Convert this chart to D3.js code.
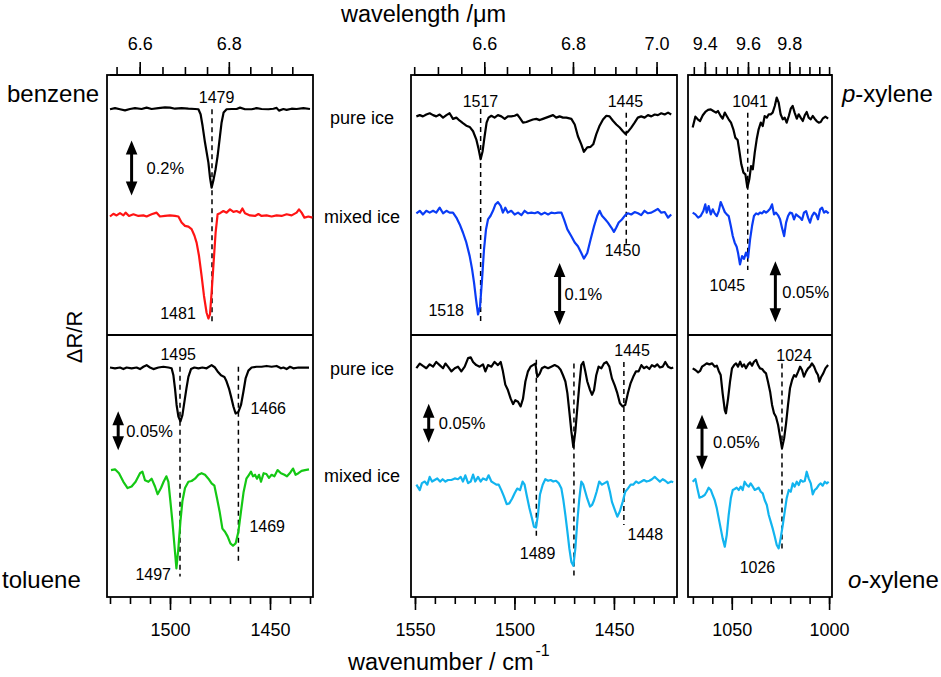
<!DOCTYPE html>
<html>
<head>
<meta charset="utf-8">
<script src="https://cdn.jsdelivr.net/npm/d3@7"></script>
<style>
body { margin: 0; background: #fff; }
svg text { font-family: "Liberation Sans", Arial, sans-serif; fill: #000; }
</style>
</head>
<body>
<script>
// spectra: [wavenumber (cm-1), dR/R (%) relative to each trace baseline]
var benzenePure = [[1530.0,0],[1527.5,0.004],[1525.0,0],[1522.5,-0.004],[1520.0,0.001],[1517.5,0.004],[1514.2,0.001],[1511.7,0.006],[1509.2,0.001],[1505.8,0.004],[1502.5,0.007],[1500.0,0.006],[1497.5,0.002],[1494.2,0.004],[1490.8,0.002],[1487.5,0.001],[1485.8,0],[1484.7,-0.018],[1483.7,-0.061],[1482.5,-0.121],[1480.8,-0.194],[1480.0,-0.248],[1479.2,-0.285],[1478.2,-0.255],[1477.2,-0.218],[1476.2,-0.170],[1475.0,-0.097],[1474.2,-0.048],[1473.2,-0.012],[1471.7,0],[1469.2,0.001],[1466.7,0.001],[1465.0,0.006],[1462.5,0],[1459.2,0],[1456.7,0.004],[1454.2,0.001],[1450.8,0],[1448.3,0.002],[1446.7,0.005],[1445.5,-0.005],[1443.3,0.001],[1441.7,-0.002],[1439.2,0.002],[1436.7,0.001],[1433.3,0.004],[1430.0,0.001]];
var benzeneMixed = [[1530.0,-0.002],[1528.3,0.008],[1526.7,0.002],[1525.0,0.010],[1523.3,0.002],[1522.2,0.012],[1520.5,0],[1518.3,0.006],[1515.8,0],[1513.3,0.002],[1511.7,-0.002],[1509.2,0.006],[1506.7,0.012],[1505.0,-0.002],[1502.5,0],[1500.0,0.002],[1497.5,0],[1495.8,-0.002],[1494.2,-0.024],[1492.5,-0.036],[1490.8,-0.039],[1489.2,-0.048],[1487.8,-0.071],[1486.7,-0.097],[1485.5,-0.145],[1484.2,-0.218],[1483.0,-0.291],[1481.7,-0.352],[1480.8,-0.373],[1480.0,-0.358],[1479.2,-0.279],[1478.2,-0.170],[1477.2,-0.061],[1476.2,0.006],[1475.0,0.010],[1473.3,0.018],[1471.7,0.012],[1470.0,0.024],[1468.3,0.015],[1466.7,0.018],[1465.0,0.012],[1463.8,0.027],[1462.5,0.010],[1460.0,0.002],[1457.5,0],[1455.8,0.007],[1454.2,0],[1451.7,0.002],[1449.2,-0.002],[1446.7,0.002],[1444.2,0],[1441.7,0.006],[1439.2,0.002],[1436.7,0.012],[1435.5,0.024],[1434.2,0.012],[1432.8,-0.006],[1430.8,-0.002],[1428.8,-0.006]];

var pXyleneCHPure = [[1549.3,0.002],[1547.6,0.004],[1546.0,0.002],[1544.3,0.005],[1542.6,0.007],[1540.9,0.004],[1539.3,0.002],[1537.6,0.005],[1535.9,0],[1534.2,0.004],[1532.6,0.007],[1530.9,-0.002],[1529.2,0],[1527.5,-0.005],[1525.9,-0.009],[1524.2,-0.013],[1522.5,-0.015],[1520.8,-0.022],[1519.2,-0.035],[1518.0,-0.051],[1517.0,-0.067],[1516.0,-0.054],[1515.0,-0.030],[1514.0,-0.008],[1513.0,0],[1511.6,0.003],[1510.0,0],[1508.3,0.004],[1506.6,0.002],[1504.9,-0.002],[1503.3,0.002],[1501.6,0.002],[1499.9,0.003],[1498.6,0.005],[1497.4,0],[1495.7,-0.008],[1494.0,-0.007],[1492.4,-0.005],[1490.7,-0.003],[1489.0,-0.002],[1487.3,-0.004],[1485.7,-0.002],[1484.0,0],[1482.3,0.002],[1480.6,0.004],[1479.0,0],[1477.3,0.002],[1475.6,0],[1473.9,0],[1471.4,-0.002],[1469.7,-0.011],[1468.1,-0.030],[1466.4,-0.043],[1465.1,-0.055],[1463.4,-0.048],[1461.7,-0.047],[1460.4,-0.043],[1458.9,-0.027],[1457.2,-0.013],[1455.5,-0.003],[1453.8,0.003],[1452.2,0.002],[1450.5,-0.005],[1448.8,-0.011],[1447.1,-0.016],[1445.5,-0.022],[1444.3,-0.026],[1443.0,-0.023],[1441.3,-0.016],[1439.6,-0.008],[1438.0,0],[1436.3,0.002],[1434.6,0],[1432.9,0.004],[1431.2,0.002],[1429.5,0.005],[1427.9,0.004],[1426.2,0.007],[1424.5,0.005],[1422.8,0.008],[1421.2,0.005]];
var pXyleneCHMixed = [[1549.3,-0.001],[1547.6,0.003],[1546.0,-0.003],[1544.3,0.003],[1542.6,0],[1540.9,0.003],[1539.3,0],[1537.6,0.008],[1535.9,-0.001],[1534.2,0.003],[1532.6,0],[1530.9,0],[1529.2,-0.008],[1527.5,-0.019],[1525.9,-0.032],[1524.2,-0.048],[1522.5,-0.070],[1521.3,-0.091],[1520.3,-0.113],[1519.3,-0.140],[1518.3,-0.164],[1517.3,-0.151],[1516.3,-0.108],[1515.3,-0.059],[1514.3,-0.027],[1513.3,-0.011],[1512.0,-0.005],[1510.8,0.003],[1509.6,0.013],[1508.3,0.017],[1506.9,0.011],[1505.8,0],[1504.6,0.008],[1503.3,0],[1501.6,0.003],[1499.9,-0.003],[1498.2,0],[1496.5,-0.004],[1494.9,0.003],[1493.2,-0.001],[1491.5,0],[1489.8,-0.001],[1488.2,0.001],[1486.5,-0.003],[1484.8,0],[1483.1,-0.003],[1481.5,0],[1479.8,-0.001],[1478.1,0],[1476.4,0],[1475.1,-0.011],[1473.4,-0.027],[1471.4,-0.038],[1469.7,-0.048],[1468.1,-0.054],[1466.4,-0.065],[1465.1,-0.074],[1463.4,-0.065],[1461.7,-0.043],[1460.0,-0.022],[1458.4,-0.005],[1457.2,0.003],[1456.0,-0.005],[1454.3,-0.011],[1453.0,-0.016],[1451.3,-0.024],[1450.0,-0.031],[1448.8,-0.024],[1447.6,-0.016],[1446.0,-0.011],[1444.3,-0.004],[1443.0,-0.001],[1441.3,-0.003],[1439.6,0.001],[1437.9,-0.001],[1436.3,-0.004],[1434.6,0.003],[1432.9,-0.001],[1431.2,0],[1429.5,0.003],[1427.9,0.006],[1426.2,0],[1424.5,0.001],[1422.8,-0.008],[1421.2,-0.003]];

var pXyleneCOPure = [[1070.1,-0.0068],[1068.7,0.0022],[1067.5,0],[1066.3,-0.0014],[1064.9,0.0033],[1063.6,0.0060],[1062.2,0.0077],[1060.8,0.0082],[1059.5,0.0068],[1058.1,0.0055],[1057.1,0.0068],[1055.7,0.0027],[1054.7,0.0005],[1053.6,0.0055],[1052.6,0.0027],[1051.6,0],[1050.4,-0.0027],[1049.2,-0.0082],[1048.2,-0.0150],[1047.0,-0.0169],[1046.1,-0.0260],[1045.1,-0.0369],[1044.0,-0.0437],[1043.0,-0.0451],[1042.0,-0.0560],[1041.0,-0.0492],[1040.1,-0.0383],[1039.2,-0.0410],[1038.2,-0.0273],[1037.2,-0.0164],[1036.2,-0.0082],[1035.1,-0.0027],[1034.1,-0.0055],[1033.1,0.0027],[1032.0,0.0014],[1031.0,0.0041],[1030.0,0.0041],[1029.0,0.0055],[1027.9,0.0109],[1026.9,0.0178],[1025.9,0.0137],[1024.9,0.0041],[1023.8,0],[1022.8,0.0014],[1021.8,-0.0027],[1020.7,0.0027],[1019.7,0.0087],[1018.7,0.0109],[1017.7,0.0055],[1016.6,0.0005],[1015.6,0.0041],[1014.6,0.0014],[1013.5,-0.0014],[1012.5,0.0033],[1011.5,0.0060],[1010.5,0.0014],[1009.4,0],[1008.4,0.0027],[1007.4,0.0005],[1006.4,-0.0014],[1005.3,-0.0027],[1004.3,-0.0022],[1003.3,0.0005],[1001.9,0.0022],[1000.5,0.0005]];
var pXyleneCOMixed = [[1070.1,0.0014],[1068.7,0],[1067.3,-0.0027],[1066.0,-0.0014],[1064.6,0.0027],[1063.6,0.0082],[1062.9,0.0014],[1061.9,0.0068],[1060.8,0],[1059.8,0.0041],[1058.8,0.0008],[1057.7,-0.0014],[1056.7,0.0027],[1055.7,0.0101],[1054.7,0.0063],[1053.6,0.0019],[1052.6,0],[1051.6,-0.0014],[1050.5,-0.0096],[1049.5,-0.0178],[1048.5,-0.0232],[1047.5,-0.0265],[1046.8,-0.0314],[1045.8,-0.0410],[1044.7,-0.0342],[1043.7,-0.0365],[1042.7,-0.0314],[1041.6,-0.0355],[1040.6,-0.0205],[1039.6,-0.0096],[1038.6,-0.0014],[1037.5,0.0008],[1036.5,0],[1035.5,0.0014],[1034.4,0.0008],[1033.4,0.0027],[1032.4,0.0014],[1031.4,0.0027],[1030.3,0.0046],[1029.3,0.0082],[1028.3,0],[1027.3,0.0014],[1026.2,-0.0008],[1025.2,-0.0041],[1024.2,-0.0109],[1023.1,-0.0178],[1022.1,-0.0068],[1021.1,-0.0014],[1020.1,0.0014],[1019.0,0.0008],[1018.0,-0.0041],[1017.0,0],[1015.9,-0.0014],[1014.9,-0.0027],[1013.9,-0.0046],[1012.9,0.0014],[1011.8,0.0027],[1010.8,-0.0027],[1009.8,-0.0068],[1008.8,-0.0014],[1007.7,0.0014],[1006.7,0],[1005.7,-0.0041],[1004.6,0.0041],[1003.6,0.0055],[1002.6,0.0014],[1001.6,0.0027],[1000.2,0.0008]];

var toluenePure = [[1530.0,0.001],[1527.5,0],[1525.0,0.001],[1523.3,-0.001],[1521.7,0.001],[1519.2,0],[1516.7,0.001],[1515.0,-0.001],[1513.3,0.002],[1511.7,0.004],[1510.0,0.001],[1508.3,-0.001],[1505.8,0.001],[1503.3,0.002],[1500.8,0.001],[1499.2,0],[1498.3,-0.009],[1497.5,-0.026],[1496.7,-0.047],[1495.8,-0.062],[1494.8,-0.068],[1493.8,-0.060],[1492.8,-0.043],[1491.8,-0.026],[1490.8,-0.011],[1489.5,-0.001],[1487.8,0.001],[1485.8,0],[1483.8,0.001],[1481.7,0],[1479.2,0.004],[1477.5,0.001],[1476.2,-0.004],[1474.5,-0.009],[1472.8,-0.011],[1471.7,-0.017],[1470.5,-0.026],[1469.5,-0.036],[1468.3,-0.049],[1467.2,-0.058],[1465.8,-0.056],[1464.5,-0.047],[1463.3,-0.030],[1462.2,-0.013],[1460.8,-0.003],[1459.2,0.001],[1456.7,0.002],[1454.2,0.002],[1451.7,0.003],[1449.2,0.002],[1446.7,0.003],[1444.5,0],[1443.3,0.001],[1441.7,-0.001],[1440.0,0.002],[1438.3,0],[1435.8,0.001],[1433.3,0.001],[1430.5,0.001]];
var tolueneMixed = [[1529.5,0.002],[1527.5,0.003],[1525.5,-0.002],[1523.3,-0.013],[1521.2,-0.021],[1519.2,-0.019],[1517.2,-0.013],[1515.0,-0.002],[1513.8,0],[1512.5,-0.011],[1510.8,-0.013],[1509.2,-0.009],[1507.5,-0.019],[1506.2,-0.029],[1504.5,-0.021],[1503.2,-0.013],[1501.8,-0.006],[1500.8,-0.013],[1499.8,-0.038],[1498.8,-0.064],[1497.8,-0.094],[1496.8,-0.124],[1495.8,-0.098],[1494.8,-0.064],[1493.8,-0.038],[1492.5,-0.021],[1490.8,-0.013],[1489.2,-0.012],[1487.5,-0.009],[1485.8,-0.004],[1484.2,-0.002],[1482.5,-0.004],[1480.8,-0.009],[1479.2,-0.015],[1477.8,-0.018],[1476.5,-0.034],[1475.2,-0.051],[1473.8,-0.073],[1472.5,-0.077],[1471.2,-0.083],[1469.8,-0.092],[1468.5,-0.095],[1467.2,-0.092],[1465.8,-0.077],[1464.5,-0.051],[1463.2,-0.026],[1461.8,-0.009],[1460.5,-0.004],[1459.5,0],[1458.5,-0.006],[1457.5,-0.004],[1456.5,-0.009],[1455.5,-0.004],[1454.5,-0.013],[1453.2,-0.002],[1451.8,-0.003],[1450.5,-0.008],[1449.2,-0.004],[1447.8,-0.006],[1446.2,0.002],[1444.5,-0.002],[1442.8,-0.004],[1441.5,-0.006],[1439.8,-0.001],[1438.5,0.004],[1437.2,-0.004],[1435.8,-0.002],[1434.2,0.001],[1432.5,0.002],[1430.5,0.003]];

var oXyleneCHPure = [[1549.3,-0.002],[1547.6,0.004],[1546.0,0.001],[1544.3,-0.002],[1542.6,0.003],[1540.9,0],[1539.3,0.006],[1537.6,0.002],[1535.9,-0.002],[1534.7,0.004],[1533.4,0],[1531.7,-0.006],[1530.0,-0.002],[1528.4,0],[1526.7,-0.006],[1525.0,0],[1523.3,0.011],[1522.0,0.012],[1520.8,0.006],[1519.2,0.002],[1517.5,0],[1515.8,0.003],[1514.6,-0.006],[1513.3,0.002],[1511.6,0],[1510.0,0.006],[1508.3,0.002],[1506.9,0.006],[1505.8,-0.006],[1504.6,-0.023],[1503.3,-0.030],[1501.9,-0.041],[1500.7,-0.048],[1499.6,-0.043],[1498.2,-0.045],[1496.9,-0.051],[1495.7,-0.041],[1494.5,-0.019],[1493.2,-0.006],[1491.9,0],[1490.7,0.002],[1489.5,0.004],[1488.5,-0.013],[1487.3,-0.009],[1486.2,-0.002],[1484.8,0],[1483.1,-0.002],[1481.5,0],[1479.8,0.002],[1478.1,0],[1476.8,-0.004],[1475.6,-0.011],[1474.4,-0.019],[1473.4,-0.034],[1472.4,-0.058],[1471.4,-0.083],[1470.4,-0.103],[1469.4,-0.083],[1468.4,-0.053],[1467.4,-0.024],[1466.4,0.002],[1465.4,0.006],[1464.4,-0.006],[1463.4,-0.019],[1462.0,-0.030],[1461.0,-0.036],[1460.0,-0.030],[1458.9,-0.011],[1457.7,0],[1456.3,-0.002],[1455.0,0.004],[1453.7,0.006],[1452.3,0],[1451.0,-0.015],[1449.6,-0.024],[1448.3,-0.034],[1447.0,-0.047],[1445.6,-0.051],[1444.3,-0.049],[1443.0,-0.034],[1441.6,-0.021],[1440.3,-0.013],[1438.9,-0.006],[1437.6,-0.006],[1436.2,0.002],[1434.9,-0.002],[1433.6,0],[1432.2,-0.003],[1430.9,0.002],[1429.5,0],[1428.2,0.003],[1426.9,-0.001],[1425.5,0],[1424.2,0.006],[1422.8,0],[1421.2,-0.002],[1420.2,-0.001]];
var oXyleneCHMixed = [[1549.3,-0.006],[1547.6,-0.013],[1546.5,-0.004],[1545.1,-0.002],[1543.8,-0.006],[1542.6,0.004],[1541.4,-0.002],[1540.1,0],[1538.8,0.002],[1537.4,-0.002],[1536.1,0.001],[1534.7,-0.002],[1533.4,0],[1531.7,0],[1530.0,0.002],[1528.4,0.001],[1527.0,0.004],[1525.9,-0.002],[1524.7,0.006],[1523.3,-0.004],[1522.0,-0.002],[1520.8,0.007],[1519.7,-0.002],[1518.3,0.004],[1517.0,-0.002],[1515.8,0.002],[1514.1,0],[1513.0,0.006],[1511.6,-0.002],[1510.3,-0.004],[1509.1,-0.006],[1507.9,-0.006],[1506.6,-0.013],[1505.3,-0.021],[1503.9,-0.031],[1502.6,-0.030],[1501.2,-0.024],[1499.9,-0.017],[1498.6,-0.011],[1497.2,-0.013],[1495.9,-0.002],[1494.9,-0.006],[1493.9,-0.019],[1492.5,-0.036],[1491.2,-0.049],[1490.2,-0.060],[1489.2,-0.061],[1488.2,-0.045],[1487.2,-0.019],[1485.8,-0.006],[1484.5,0.001],[1483.1,-0.001],[1481.8,0],[1480.5,-0.002],[1479.1,-0.001],[1477.8,-0.004],[1476.4,-0.011],[1475.4,-0.026],[1474.4,-0.045],[1473.4,-0.066],[1472.4,-0.088],[1471.4,-0.105],[1470.4,-0.110],[1469.4,-0.088],[1468.4,-0.053],[1467.4,-0.024],[1466.4,-0.002],[1465.4,-0.006],[1464.4,-0.015],[1463.4,-0.024],[1462.0,-0.034],[1461.0,-0.032],[1460.0,-0.026],[1458.7,-0.015],[1457.4,-0.002],[1456.0,-0.006],[1454.7,-0.004],[1453.3,-0.002],[1452.0,-0.015],[1451.0,-0.028],[1449.6,-0.038],[1448.3,-0.047],[1447.0,-0.040],[1445.6,-0.028],[1444.3,-0.015],[1443.0,-0.011],[1441.6,-0.006],[1440.3,-0.006],[1438.9,-0.002],[1437.6,-0.004],[1436.2,-0.002],[1434.9,0],[1433.6,-0.002],[1432.2,-0.001],[1430.9,0.001],[1429.5,0.004],[1428.2,0.001],[1426.9,-0.002],[1425.5,0.001],[1424.2,-0.001],[1422.8,-0.004],[1421.2,-0.002],[1420.2,-0.003]];

var oXyleneCOPure = [[1070.1,-0.0015],[1068.7,-0.0030],[1067.3,-0.0052],[1066.3,-0.0039],[1065.3,0],[1064.1,0.0015],[1062.9,0.0030],[1061.5,0.0021],[1060.1,0.0030],[1058.8,0],[1057.7,0.0009],[1056.7,-0.0039],[1055.7,-0.0076],[1054.7,-0.0242],[1053.6,-0.0394],[1053.0,-0.0424],[1051.9,-0.0288],[1050.9,-0.0136],[1049.9,-0.0015],[1048.8,0.0015],[1047.8,0.0030],[1046.8,0],[1045.7,0.0045],[1044.7,0],[1043.7,0.0021],[1042.7,-0.0015],[1041.6,0.0021],[1040.6,0.0039],[1039.6,0.0009],[1038.6,0.0045],[1037.5,0.0061],[1036.5,0.0015],[1035.5,-0.0015],[1034.4,-0.0021],[1033.4,-0.0045],[1032.4,-0.0061],[1031.4,-0.0136],[1030.3,-0.0227],[1029.3,-0.0348],[1028.3,-0.0424],[1027.3,-0.0455],[1026.2,-0.0530],[1025.2,-0.0636],[1024.2,-0.0742],[1023.1,-0.0652],[1022.1,-0.0515],[1021.1,-0.0348],[1020.1,-0.0197],[1019.0,-0.0121],[1018.0,-0.0076],[1017.0,-0.0091],[1015.9,-0.0045],[1014.9,0],[1013.9,-0.0030],[1012.9,-0.0091],[1011.8,-0.0045],[1010.8,-0.0015],[1009.8,0],[1008.8,0.0030],[1007.7,0],[1006.7,-0.0045],[1005.7,-0.0076],[1005.0,-0.0136],[1004.0,-0.0091],[1003.0,-0.0061],[1001.9,-0.0015],[1000.5,0.0015]];
var oXyleneCOMixed = [[1070.1,0.0030],[1068.7,0.0055],[1067.7,-0.0030],[1066.6,-0.0115],[1065.3,-0.0106],[1063.9,-0.0091],[1062.9,-0.0061],[1061.9,-0.0024],[1060.8,-0.0045],[1059.8,-0.0091],[1058.8,-0.0136],[1057.7,-0.0212],[1056.7,-0.0303],[1055.7,-0.0394],[1054.7,-0.0485],[1053.6,-0.0561],[1052.6,-0.0455],[1051.6,-0.0273],[1050.5,-0.0121],[1049.5,-0.0045],[1048.5,-0.0036],[1047.5,-0.0024],[1046.4,-0.0045],[1045.4,-0.0015],[1044.4,-0.0045],[1043.4,0.0030],[1042.3,0],[1041.3,-0.0015],[1040.3,0.0015],[1039.2,-0.0015],[1038.2,-0.0045],[1037.2,-0.0036],[1036.2,-0.0024],[1035.1,-0.0061],[1034.1,-0.0076],[1033.1,-0.0136],[1032.0,-0.0182],[1031.0,-0.0273],[1030.0,-0.0333],[1029.0,-0.0394],[1027.9,-0.0470],[1026.9,-0.0545],[1025.9,-0.0576],[1024.9,-0.0485],[1023.8,-0.0364],[1022.8,-0.0242],[1021.8,-0.0121],[1020.7,-0.0045],[1019.7,-0.0061],[1018.7,0.0015],[1017.7,-0.0015],[1016.6,0.0030],[1015.6,0],[1014.6,0.0045],[1013.5,0.0030],[1012.5,0.0036],[1011.5,0.0121],[1010.5,0.0061],[1009.4,0.0015],[1008.4,-0.0085],[1007.4,-0.0045],[1006.4,-0.0030],[1005.3,0],[1004.3,0.0015],[1003.3,-0.0006],[1002.2,0.0030],[1001.2,0.0015],[1000.2,0.0030]];

// axis ticks
var bottomMajor = [[1500, 1450], [1550, 1500, 1450], [1050, 1000]];
var topMajor = [[6.6, 6.8], [6.6, 6.8, 7.0], [9.4, 9.6, 9.8]];

// peak labels [wavenumber, dR/R, text], dashed guides [wavenumber, top, bottom]
var benzeneLabels = [[1476.7, 0.042, "1479"], [1496, -0.742, "1481"]];
var benzeneDashes = [[1479, 0, -0.776]];
var pXyleneCHLabels = [[1517.1, 0.027, "1517"], [1444.2, 0.027, "1445"], [1534.3, -0.310, "1518"], [1445.7, -0.213, "1450"]];
var pXyleneCHDashes = [[1517, 0.014, -0.333], [1443.8, 0.008, -0.204]];
var pXyleneCOLabels = [[1040.6, 0.015, "1041"], [1052.3, -0.136, "1045"]];
var pXyleneCODashes = [[1041.8, 0.0054, -0.1235]];
var tolueneLabels = [[1495.9, 0.018, "1495"], [1450.9, -0.051, "1466"], [1451.4, -0.202, "1469"], [1508.4, -0.264, "1497"]];
var tolueneDashes = [[1495, 0.002, -0.267], [1465.8, 0.002, -0.248]];
var oXyleneCHLabels = [[1440.9, 0.021, "1445"], [1488.4, -0.239, "1489"], [1434.2, -0.215, "1448"]];
var oXyleneCHDashes = [[1489, 0.009, -0.220], [1470.1, 0.004, -0.269], [1445, 0.006, -0.203]];
var oXyleneCOLabels = [[1018.0, 0.010, "1024"], [1036.8, -0.182, "1026"]];
var oXyleneCODashes = [[1024.2, 0.003, -0.1667]];

var width = 941, height = 677;
var cols = [
    {x0: 107, x1: 313, wn: [1531.5, 1428.5]},
    {x0: 411, x1: 677, wn: [1552, 1418.3]},
    {x0: 688, x1: 832, wn: [1072.5, 998.5]}
];
var rows = [{y0: 76, y1: 335}, {y0: 335, y1: 597}];

var panels = [
    {col: 0, row: 0, y: [-0.821, 0.121], color: "#ff1414", offset: -0.388, pure: benzenePure, mixed: benzeneMixed,
     labels: benzeneLabels, dashes: benzeneDashes, bar: {wn: 1519.2, v: -0.214, size: 0.2, text: "0.2%", dx: 15}},
    {col: 1, row: 0, y: [-0.350, 0.067], color: "#0a3cf5", offset: -0.153, pure: pXyleneCHPure, mixed: pXyleneCHMixed,
     labels: pXyleneCHLabels, dashes: pXyleneCHDashes, bar: {wn: 1477.3, v: -0.284, size: 0.1, text: "0.1%", dx: 5}},
    {col: 2, row: 0, y: [-0.1768, 0.0355], color: "#0a3cf5", offset: -0.0779, pure: pXyleneCOPure, mixed: pXyleneCOMixed,
     labels: pXyleneCOLabels, dashes: pXyleneCODashes, bar: {wn: 1027.6, v: -0.1414, size: 0.05, text: "0.05%", dx: 7}},
    {col: 0, row: 1, y: [-0.2932, 0.0427], color: "#14c814", offset: -0.1325, pure: toluenePure, mixed: tolueneMixed,
     labels: tolueneLabels, dashes: tolueneDashes, bar: {wn: 1525.9, v: -0.0801, size: 0.05, text: "0.05%", dx: 8}},
    {col: 1, row: 1, y: [-0.2953, 0.0406], color: "#12b4ef", offset: -0.1453, pure: oXyleneCHPure, mixed: oXyleneCHMixed,
     labels: oXyleneCHLabels, dashes: oXyleneCHDashes, bar: {wn: 1543.1, v: -0.0726, size: 0.05, text: "0.05%", dx: 10}},
    {col: 2, row: 1, y: [-0.2094, 0.0288], color: "#12b4ef", offset: -0.1076, pure: oXyleneCOPure, mixed: oXyleneCOMixed,
     labels: oXyleneCOLabels, dashes: oXyleneCODashes, bar: {wn: 1065.3, v: -0.0686, size: 0.05, text: "0.05%", dx: 11}}
];

var svg = d3.select("body").append("svg")
    .attr("width", width)
    .attr("height", height);

svg.append("rect").attr("width", width).attr("height", height).attr("fill", "#fff");

// frames and axes per column
cols.forEach(function(c, i) {
    var x = d3.scaleLinear().domain(c.wn).range([c.x0, c.x1]);
    c.scale = x;
    var inside = function(v) { return x(v) > c.x0 + 2.5 && x(v) < c.x1 - 2.5; };

    svg.append("rect")
        .attr("x", c.x0).attr("y", 75)
        .attr("width", c.x1 - c.x0).attr("height", 597 - 75)
        .attr("fill", "none").attr("stroke", "#000").attr("stroke-width", 1.8);
    svg.append("line")
        .attr("x1", c.x0).attr("x2", c.x1).attr("y1", 335).attr("y2", 335)
        .attr("stroke", "#000").attr("stroke-width", 1.8);

    var minorWn = d3.range(Math.ceil(c.wn[1] / 10) * 10, c.wn[0], 10).filter(inside);
    var lamLo = 1e4 / c.wn[0], lamHi = 1e4 / c.wn[1];
    var minorLam = d3.range(Math.ceil(lamLo / 0.05), Math.floor(lamHi / 0.05) + 1)
        .map(function(k) { return 1e4 / (k * 0.05); }).filter(inside);

    svg.append("g").attr("transform", "translate(0,597)")
        .call(d3.axisBottom(x).tickValues(minorWn).tickSize(7).tickFormat(""));
    svg.append("g").attr("transform", "translate(0,597)")
        .call(d3.axisBottom(x).tickValues(bottomMajor[i]).tickSize(13).tickPadding(13).tickFormat(d3.format("d")));
    svg.append("g").attr("transform", "translate(0,75)")
        .call(d3.axisTop(x).tickValues(minorLam).tickSize(8).tickFormat(""));
    svg.append("g").attr("transform", "translate(0,75)")
        .call(d3.axisTop(x).tickValues(topMajor[i].map(function(l) { return 1e4 / l; }))
            .tickSize(13).tickPadding(12).tickFormat(function(w) { return (1e4 / w).toFixed(1); }));
});

svg.selectAll(".domain").remove();
svg.selectAll(".tick line").attr("stroke", "#000").attr("stroke-width", 1.6);
svg.selectAll(".tick text").style("font-size", "18px").style("font-family", "'Liberation Sans', Arial, sans-serif");

// top axis line just above frame
cols.forEach(function(c) {
    svg.append("line").attr("x1", c.x0 + 3).attr("x2", c.x1).attr("y1", 75).attr("y2", 75)
        .attr("stroke", "#000").attr("stroke-width", 1.8);
});

panels.forEach(function(p) {
    var c = cols[p.col], r = rows[p.row];
    var x = c.scale;
    var y = d3.scaleLinear().domain(p.y).range([r.y1, r.y0]);
    var g = svg.append("g");

    g.selectAll("line.dash")
        .data(p.dashes)
        .join("line")
        .attr("class", "dash")
        .attr("x1", function(d) { return x(d[0]); })
        .attr("x2", function(d) { return x(d[0]); })
        .attr("y1", function(d) { return y(d[1]); })
        .attr("y2", function(d) { return y(d[2]); })
        .attr("stroke", "#000")
        .attr("stroke-width", 1.5)
        .attr("stroke-dasharray", "5,4");

    var traces = [{data: p.pure, offset: 0, color: "#000"}, {data: p.mixed, offset: p.offset, color: p.color}];
    traces.forEach(function(t) {
        var line = d3.line()
            .x(function(d) { return x(d[0]); })
            .y(function(d) { return y(d[1] + t.offset); });
        g.append("path")
            .datum(t.data)
            .attr("d", line)
            .attr("fill", "none")
            .attr("stroke", t.color)
            .attr("stroke-width", 2.2)
            .attr("stroke-linejoin", "round");
    });

    g.selectAll("text.peak")
        .data(p.labels)
        .join("text")
        .attr("class", "peak")
        .attr("x", function(d) { return x(d[0]); })
        .attr("y", function(d) { return y(d[1]); })
        .attr("dy", "0.36em")
        .attr("text-anchor", "middle")
        .style("font-size", "16px")
        .text(function(d) { return d[2]; });

    // double arrow scale bar
    var b = p.bar;
    var bx = x(b.wn), yTop = y(b.v + b.size / 2), yBot = y(b.v - b.size / 2);
    var head = 14, hw = 5.8;
    g.append("line")
        .attr("x1", bx).attr("x2", bx)
        .attr("y1", yTop + head - 1).attr("y2", yBot - head + 1)
        .attr("stroke", "#000").attr("stroke-width", 3);
    g.append("path")
        .attr("d", "M" + bx + "," + yTop + "L" + (bx + hw) + "," + (yTop + head) + "L" + (bx - hw) + "," + (yTop + head) + "Z" +
                   "M" + bx + "," + yBot + "L" + (bx + hw) + "," + (yBot - head) + "L" + (bx - hw) + "," + (yBot - head) + "Z")
        .attr("fill", "#000");
    g.append("text")
        .attr("x", bx + b.dx)
        .attr("y", y(b.v))
        .attr("dy", "0.36em")
        .style("font-size", "16.5px")
        .text(b.text);
});

// ice labels between columns
var iceLabels = [["pure ice", 118], ["mixed ice", 217], ["pure ice", 369], ["mixed ice", 476]];
svg.selectAll("text.ice")
    .data(iceLabels)
    .join("text")
    .attr("class", "ice")
    .attr("x", 362)
    .attr("y", function(d) { return d[1]; })
    .attr("dy", "0.36em")
    .attr("text-anchor", "middle")
    .style("font-size", "18px")
    .text(function(d) { return d[0]; });

// molecule names
svg.append("text").attr("x", 7).attr("y", 102).style("font-size", "24px").text("benzene");
svg.append("text").attr("x", 2).attr("y", 588).style("font-size", "24px").text("toluene");
var px = svg.append("text").attr("x", 842).attr("y", 102).style("font-size", "24px");
px.append("tspan").style("font-style", "italic").text("p");
px.append("tspan").text("-xylene");
var ox = svg.append("text").attr("x", 848).attr("y", 588).style("font-size", "24px");
ox.append("tspan").style("font-style", "italic").text("o");
ox.append("tspan").text("-xylene");

// axis titles
svg.append("text").attr("x", 341).attr("y", 22).style("font-size", "23.5px").text("wavelength /\u03bcm");
var xt = svg.append("text").attr("x", 348).attr("y", 670).style("font-size", "23.5px");
xt.append("tspan").text("wavenumber / cm");
xt.append("tspan").attr("dx", 2).attr("dy", -14).style("font-size", "16px").text("-1");
svg.append("text")
    .attr("transform", "translate(74,337) rotate(-90)")
    .attr("text-anchor", "middle")
    .attr("dy", "0.36em")
    .style("font-size", "22px")
    .text("\u0394R/R");
</script>
</body>
</html>
